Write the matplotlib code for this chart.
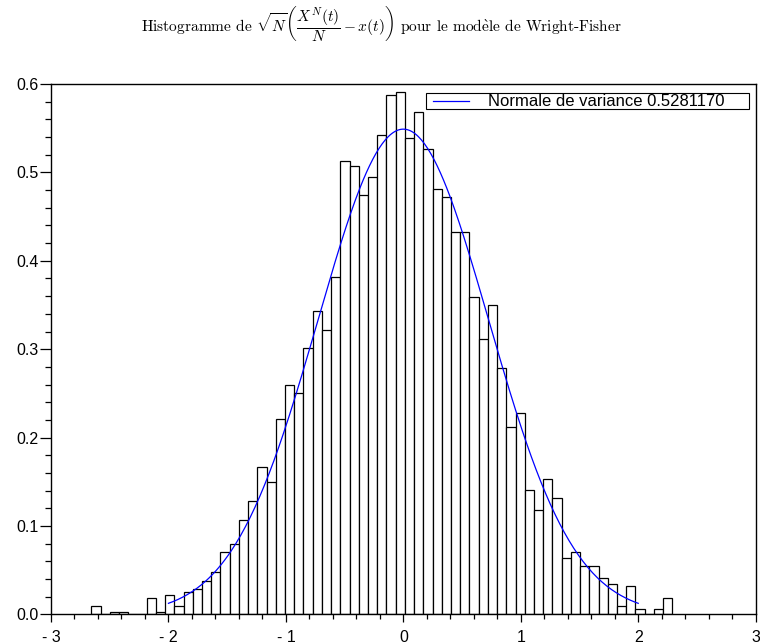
import matplotlib
matplotlib.use("Agg")
import matplotlib.pyplot as plt
import matplotlib.patches as mpatches
import numpy as np

plt.rcParams['mathtext.fontset'] = 'cm'

# histogram of sqrt(N)(X^N(t)/N - x(t)), 63 bins
bin_range = (-2.656, 2.290)
heights = [0.0095, 0.0, 0.0026, 0.0026, 0.0, 0.0, 0.0189, 0.0026, 0.0219, 0.0095,
           0.0253, 0.0287, 0.0382, 0.0480, 0.0703, 0.0798, 0.1062, 0.1282, 0.1664, 0.1500,
           0.2215, 0.2600, 0.2503, 0.3017, 0.3433, 0.3213, 0.3815, 0.5134, 0.5070, 0.4748,
           0.4945, 0.5425, 0.5872, 0.5906, 0.5395, 0.5682, 0.5266, 0.4817, 0.4722, 0.4329,
           0.4329, 0.3592, 0.3111, 0.3497, 0.2790, 0.2117, 0.2276, 0.1406, 0.1183, 0.1535,
           0.1312, 0.0639, 0.0700, 0.0541, 0.0541, 0.0416, 0.0348, 0.0095, 0.0318, 0.0060,
           0.0, 0.0060, 0.0189]

variance = 0.5281170
curve_range = (-2.0, 2.0)

x_ticks = [-3, -2, -1, 0, 1, 2, 3]
x_labels = ['- 3', '- 2', '- 1', '0', '1', '2', '3']
y_ticks = [0.0, 0.1, 0.2, 0.3, 0.4, 0.5, 0.6]
y_labels = ['0.0', '0.1', '0.2', '0.3', '0.4', '0.5', '0.6']

edges = np.linspace(bin_range[0], bin_range[1], len(heights) + 1)
width = edges[1] - edges[0]

xs = np.linspace(curve_range[0], curve_range[1], 300)
ys = np.exp(-xs ** 2 / (2 * variance)) / np.sqrt(2 * np.pi * variance)

fig = plt.figure(figsize=(7.6, 6.44), dpi=100)
ax = fig.add_axes([0.0671, 0.0461, 0.9272, 0.8234])

ax.bar(edges[:-1], heights, width=width, align='edge', color='white',
       edgecolor='black', linewidth=0.9)
ax.plot(xs, ys, color='#0000ff', linewidth=0.9)

ax.set_xlim(-3, 3)
ax.set_ylim(0, 0.6)
ax.set_xticks(x_ticks)
ax.set_xticklabels(x_labels)
ax.set_yticks(y_ticks)
ax.set_yticklabels(y_labels)
ax.set_xticks(np.arange(-3, 3.01, 0.2), minor=True)
ax.set_yticks(np.arange(0, 0.601, 0.02), minor=True)

for lab in ax.get_xticklabels() + ax.get_yticklabels():
    lab.set_fontfamily('Liberation Sans')
    lab.set_fontsize(11.5)
ax.tick_params(axis='y', which='major', length=8, width=0.9, pad=1)
ax.tick_params(axis='y', which='minor', length=4.5, width=0.9)
ax.tick_params(axis='x', which='major', length=6, width=0.9, pad=5)
ax.tick_params(axis='x', which='minor', length=3.8, width=0.9)
for s in ax.spines.values():
    s.set_linewidth(1.0)

# legend box drawn by hand (scilab style, extra space on the right)
ax.add_patch(mpatches.Rectangle((0.5326, 0.9523), 0.9909 - 0.5326, 0.9825 - 0.9523,
                                transform=ax.transAxes, facecolor='white',
                                edgecolor='black', linewidth=0.8, zorder=5))
ax.plot([0.5425, 0.5932], [0.9674, 0.9674], color='#0000ff', linewidth=0.9,
        transform=ax.transAxes, zorder=6)
ax.text(0.6201, 0.9674, 'Normale de variance %.7f' % variance, transform=ax.transAxes,
        ha='left', va='center', fontfamily='Liberation Sans', fontsize=12, zorder=6)

fig.text(0.502, 0.963,
         r"Histogramme de $\sqrt{N}\left(\dfrac{X^N(t)}{N}-x(t)\right)$ pour le mod$\mathrm{\grave{e}}$le de Wright-Fisher",
         ha='center', va='center', fontfamily='cmr10', fontsize=11.1)

fig.savefig('out.png', dpi=100)
